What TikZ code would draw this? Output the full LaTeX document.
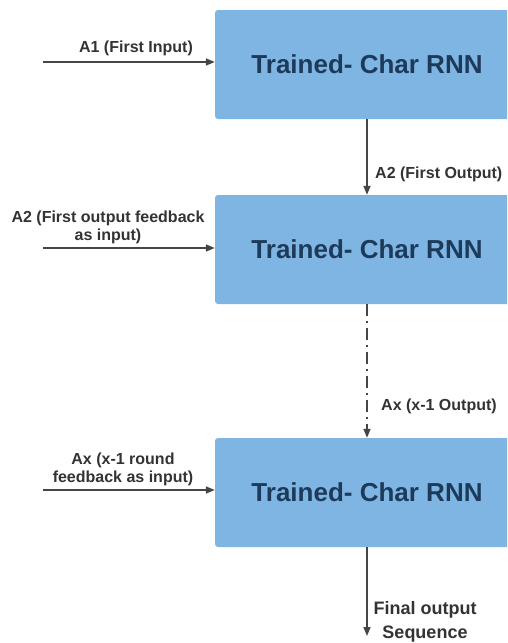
\documentclass[tikz,border=0pt]{standalone}
\usepackage{fontspec}
\setmainfont{Liberation Sans}
\usetikzlibrary{arrows.meta}
\definecolor{boxblue}{HTML}{7EB5E2}
\definecolor{boxtext}{HTML}{1D3A5A}
\definecolor{linegray}{HTML}{454545}
\definecolor{labgray}{HTML}{333333}
\tikzset{
  rnnbox/.style={draw=none, fill=boxblue, rounded corners=3pt, minimum width=304pt, minimum height=109pt, inner sep=0pt,
    text=boxtext, font=\fontsize{26}{29}\selectfont\bfseries},
  conn/.style={draw=linegray, line width=1.5pt, -{Triangle[length=9pt,width=7pt]}},
  dashconn/.style={conn, dash pattern=on 12pt off 5pt on 2pt off 5pt},
  lab/.style={text=labgray, font=\fontsize{16}{18}\selectfont\bfseries, inner sep=0pt, align=center},
}
\begin{document}
\begin{tikzpicture}[x=1pt,y=1pt]
\useasboundingbox (0,0) rectangle (507,-643);
\clip (0,0) rectangle (507,-643);
\fill[white] (0,0) rectangle (507,-643);
% boxes
\node[rnnbox] (b1) at (367,-64.5) {Trained- Char RNN};
\node[rnnbox] (b2) at (367,-249.5) {Trained- Char RNN};
\node[rnnbox] (b3) at (367,-492.5) {Trained- Char RNN};
% input start points
\coordinate (in1) at (43,-62);
\coordinate (in2) at (43,-248);
\coordinate (in3) at (43,-490);
\coordinate (fin) at (367,-636);
% input arrows
\draw[conn] (in1) -- (in1 -| b1.west);
\draw[conn] (in2) -- (in2 -| b2.west);
\draw[conn] (in3) -- (in3 -| b3.west);
% vertical arrows
\draw[conn] (b1.south) -- (b2.north);
\draw[dashconn] (b2.south) -- (b3.north);
\draw[conn] (b3.south) -- (fin);
% labels
\node[lab] (l1) at (136,-48) {A1 (First Input)};
\node[lab] (l2) at (108,-227) {A2 (First output feedback\\as input)};
\node[lab] (l3) at (123,-469) {Ax (x-1 round\\feedback as input)};
\node[lab, anchor=west] (o1) at (375,-174) {A2 (First Output)};
\node[lab, anchor=west] (o2) at (381,-406) {Ax (x-1 Output)};
\node[lab, font=\fontsize{18}{24}\selectfont\bfseries] (o3) at (425,-622) {Final output\\Sequence};
\end{tikzpicture}
\end{document}
